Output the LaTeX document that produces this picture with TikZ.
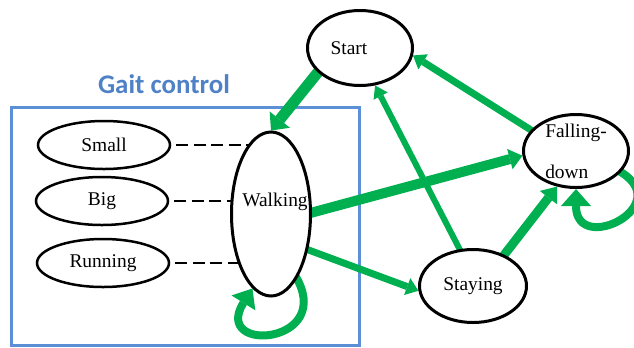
\documentclass[tikz,border=0pt]{standalone}
\usepackage{fontspec}
\setmainfont{Liberation Serif}
\newfontfamily\titlefont{Carlito}
\usepackage{tikz}
\usetikzlibrary{shapes.geometric}
\usetikzlibrary{arrows.meta}
\usetikzlibrary{backgrounds}
\definecolor{movegreen}{HTML}{00B050}
\definecolor{gaitblue}{HTML}{4F81C7}
\definecolor{frameblue}{HTML}{5B8FD6}
\newcommand{\statefont}{\fontsize{19.5}{23}\selectfont}
\tikzstyle{state}=[ellipse, draw, line width=3bp, fill=white, inner sep=0pt, font=\statefont]
\tikzstyle{gait}=[ellipse, draw, line width=2.5bp, fill=white, inner sep=0pt, font=\statefont, minimum width=132bp, minimum height=48bp]
\tikzstyle{move}=[draw=movegreen, shorten <=-5bp]
\tikzstyle{link}=[line width=1.8bp, dash pattern=on 12bp off 5.5bp, shorten <=5bp]

\begin{document}
\begin{tikzpicture}[x=1bp,y=1bp]
            \useasboundingbox (0,0) rectangle (634,-347);
            % Titulo
            \node[font=\titlefont\bfseries\fontsize{27}{31}\selectfont, text=gaitblue] (title) at (164,-84) {Gait control};
            % Estados de la marcha
            \node[gait] (small) at (104,-145) {Small};
            \node[gait] (big) at (102,-201) {Big};
            \node[gait] (running) at (103,-263) {Running};
            % Estados
            \node[state, minimum width=79bp, minimum height=164bp, label={[font=\statefont, xshift=4bp, yshift=12bp]center:Walking}] (walk) at (271,-214) {};
            \node[state, minimum width=105bp, minimum height=75bp, label={[font=\statefont, xshift=-11bp]center:Start}] (start) at (360,-48) {};
            \node[state, minimum width=105bp, minimum height=73bp, label={[font=\statefont, align=left]center:Falling-\\[18bp]down}] (fall) at (576,-151) {};
            \node[state, minimum width=107bp, minimum height=73bp] (stay) at (473,-286) {Staying};
            \begin{scope}[on background layer]
            \node[draw=frameblue, line width=3bp, minimum width=347bp, minimum height=238bp, inner sep=0pt] (gaitbox) at (185.5,-226) {};
            % Lineas punteadas
            \draw[link] (small.east) -- (small.east -| walk.center);
            \draw[link] (big.east) -- (big.east -| walk.center);
            \draw[link] (running.east) -- (running.east -| walk.center);
            % Transiciones
            \draw[move, line width=11bp, -{Triangle[length=14bp,width=26bp,line width=0pt]}] (start.-150) -- (walk.north);
            \draw[move, line width=7bp, -{Triangle[length=12bp,width=18bp,line width=0pt]}] (fall.155) -- (start.-8);
            \draw[move, line width=10bp, -{Triangle[length=13bp,width=21bp,line width=0pt]}] (walk.2) -- (fall.185);
            \draw[move, line width=7bp, -{Triangle[length=12bp,width=18bp,line width=0pt]}] (walk.-44) -- (stay.185);
            \draw[move, line width=6bp, -{Triangle[length=12bp,width=16bp,line width=0pt]}] (stay.110) -- (start.-68);
            \draw[move, line width=9bp, -{Triangle[length=14bp,width=22bp,line width=0pt]}] (stay.45) -- (fall.-118);
            % Lazos
            \draw[move, line width=8bp, -{Triangle[length=17bp,width=28bp,line width=0pt]}] (walk.-68) .. controls +(-58:78) and +(-122:78) .. (walk.-104);
            \draw[move, line width=8bp, -{Triangle[length=17bp,width=30bp,line width=0pt]}] (fall.-25) .. controls +(-28:68) and +(-90:68) .. (fall.-90);
            \end{scope}
        \end{tikzpicture}
\end{document}
